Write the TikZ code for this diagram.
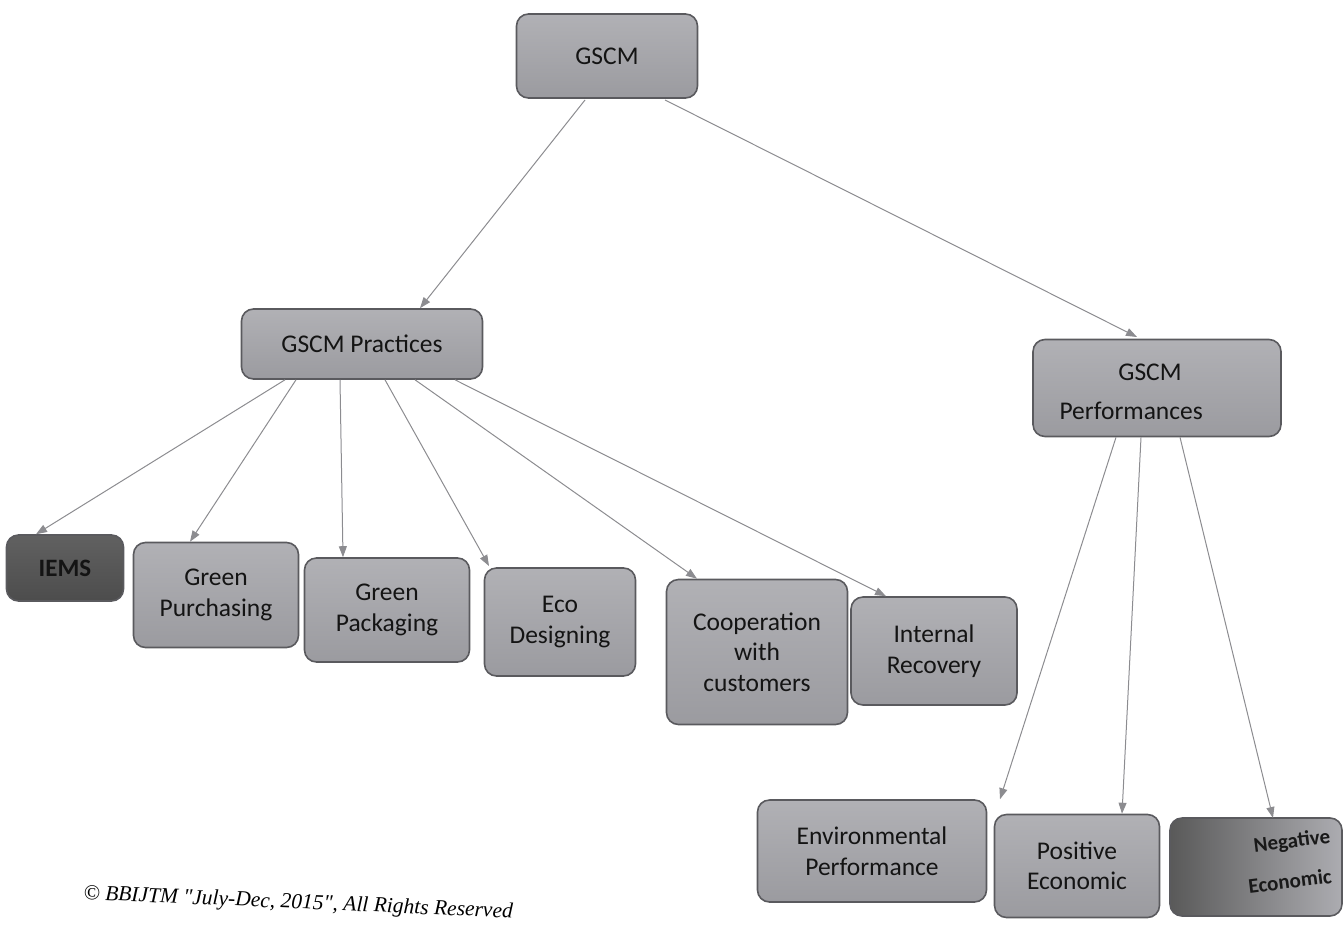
\documentclass[tikz,border=0pt]{standalone}
\usepackage{fontspec}
\setmainfont{Carlito}
\newfontfamily\notefont{Liberation Serif}
\usetikzlibrary{arrows.meta}
\definecolor{boxfill}{HTML}{A3A3A8}
\definecolor{boxline}{HTML}{5A5A5E}
\definecolor{linkgray}{HTML}{8C8C90}
\tikzset{
  label/.style={font=\fontsize{25.5}{30.5}\selectfont, text=black!92},
  box/.style={label, draw=boxline, line width=1.6pt, rounded corners=12pt,
    top color=boxfill!85!white, bottom color=boxfill!95!black,
    align=center, inner sep=0pt},
  darkbox/.style={box, top color=black!62, bottom color=black!70},
  link/.style={draw=linkgray, line width=1pt, -{Triangle[length=11pt,width=8pt]}},
}
\begin{document}
\begin{tikzpicture}[x=1pt,y=-1pt]
\useasboundingbox (0,0) rectangle (1343,924);
% top level
\node[box, minimum width=181, minimum height=84] (gscm) at (607,56) {GSCM};
\node[box, minimum width=241, minimum height=70] (prac) at (362,344) {GSCM Practices};
\node[box, minimum width=248, minimum height=97] (perf) at (1157,388) {};
\node[label] (perft) at (1150,372) {GSCM};
\node[label, anchor=west] (perfb) at (1056,411) {Performances};
% practices
\node[darkbox, minimum width=117, minimum height=66, font=\bfseries\fontsize{25}{30}\selectfont] (iems) at (65,568) {IEMS};
\node[box, minimum width=165, minimum height=105] (purch) at (216,595) {Green\\Purchasing};
\node[box, minimum width=165, minimum height=104] (pack) at (387,610) {Green\\Packaging};
\node[box, minimum width=151, minimum height=108] (eco) at (560,622) {Eco\\Designing};
\node[box, minimum width=181, minimum height=145] (coop) at (757,652) {Cooperation\\with\\customers};
\node[box, minimum width=166, minimum height=108] (intr) at (934,651) {Internal\\Recovery};
% performances
\node[box, minimum width=229, minimum height=102] (env) at (872,851) {Environmental\\Performance};
\node[box, minimum width=165, minimum height=103] (pos) at (1077,866) {Positive\\Economic};
\node[box, minimum width=172, minimum height=98, left color=black!65, right color=boxfill!90!white] (neg) at (1256,867) {};
\node[rotate=7, font=\bfseries\fontsize{21}{25}\selectfont, text=black!90] (negt1) at (1292,842) {Negative};
\node[rotate=7, font=\bfseries\fontsize{21}{25}\selectfont, text=black!90] (negt2) at (1290,881) {Economic};
% connectors
\coordinate (g1) at (585,100); \coordinate (g2) at (665,100);
\draw[link] (g1) -- (prac.north -| 420,0);
\draw[link] (g2) -- (1137,337);
\draw[link] (prac.south -| 285,0) -- (iems.north -| 36,0);
\draw[link] (prac.south -| 296,0) -- (purch.north -| 190,0);
\draw[link] (prac.south -| 340,0) -- (pack.north -| 343,0);
\draw[link] (prac.south -| 385,0) -- (489,566);
\draw[link] (prac.south -| 415,0) -- (coop.north -| 697,0);
\draw[link] (prac.south -| 455,0) -- (intr.north -| 886,0);
\draw[link] (perf.south -| 1116,0) -- (env.north -| 1000,0);
\draw[link] (perf.south -| 1141,0) -- (pos.north -| 1122,0);
\draw[link] (perf.south -| 1180,0) -- (1273,818);
% footer
\node[rotate=-2.5, anchor=west, font=\notefont\itshape\fontsize{21.5}{26}\selectfont] (note) at (80,894) {© BBIJTM "July-Dec, 2015", All Rights Reserved};
\end{tikzpicture}
\end{document}
